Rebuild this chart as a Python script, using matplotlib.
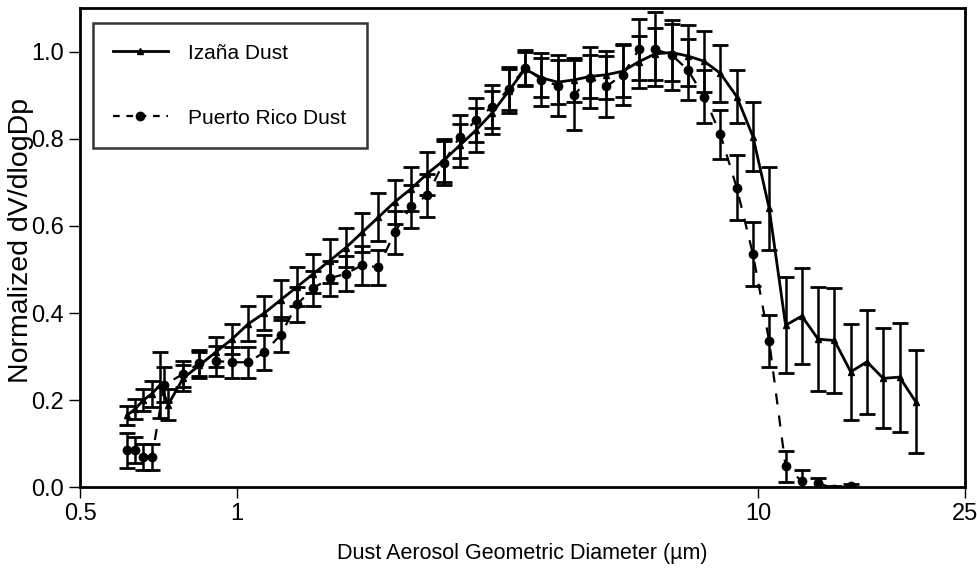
import matplotlib.pyplot as plt
from matplotlib.lines import Line2D
from matplotlib.ticker import FixedLocator, NullLocator, FixedFormatter

# Izaña dust size distribution (geometric diameter, um)
izana_d = [0.615, 0.638, 0.661, 0.687, 0.712, 0.738,
           0.788, 0.847, 0.910, 0.978, 1.051, 1.129, 1.213, 1.304, 1.401, 1.506,
           1.618, 1.739, 1.869, 2.008, 2.158, 2.319, 2.492, 2.678, 2.878, 3.093,
           3.324, 3.572, 3.838, 4.125, 4.432, 4.763, 5.119, 5.501, 5.911, 6.352,
           6.826, 7.335, 7.883, 8.471, 9.103, 9.782, 10.51, 11.30, 12.14, 13.05,
           14.02, 15.07, 16.19, 17.40, 18.70, 20.09]
izana_v = [0.165, 0.18, 0.20, 0.215, 0.235, 0.19,
           0.25, 0.28, 0.31, 0.34, 0.375, 0.40, 0.43, 0.46, 0.49, 0.52,
           0.55, 0.585, 0.62, 0.655, 0.685, 0.72, 0.75, 0.785, 0.82, 0.86,
           0.91, 0.96, 0.94, 0.93, 0.935, 0.943, 0.947, 0.955, 0.977, 0.995,
           0.998, 0.99, 0.978, 0.95, 0.897, 0.805, 0.64, 0.372, 0.393, 0.34,
           0.337, 0.265, 0.288, 0.25, 0.253, 0.196]
izana_err = [0.022, 0.023, 0.025, 0.03, 0.075, 0.035,
             0.03, 0.03, 0.035, 0.035, 0.04, 0.04, 0.045, 0.045, 0.045, 0.05,
             0.045, 0.045, 0.055, 0.05, 0.05, 0.05, 0.05, 0.05, 0.05, 0.05,
             0.05, 0.04, 0.045, 0.05, 0.05, 0.05, 0.055, 0.06, 0.06, 0.06,
             0.065, 0.07, 0.07, 0.065, 0.06, 0.08, 0.095, 0.11, 0.11, 0.12,
             0.12, 0.11, 0.12, 0.115, 0.125, 0.118]

# Puerto Rico dust
pr_d = [0.615, 0.638, 0.661, 0.687, 0.725,
        0.788, 0.847, 0.910, 0.978, 1.051, 1.129, 1.213, 1.304, 1.401, 1.506,
        1.618, 1.739, 1.869, 2.008, 2.158, 2.319, 2.492, 2.678, 2.878, 3.093,
        3.324, 3.572, 3.838, 4.125, 4.432, 4.763, 5.119, 5.501, 5.911, 6.352,
        6.826, 7.335, 7.883, 8.471, 9.103, 9.782, 10.51, 11.30, 12.14, 13.05,
        14.02, 15.07]
pr_v = [0.085, 0.085, 0.07, 0.07, 0.235,
        0.26, 0.285, 0.29, 0.287, 0.287, 0.31, 0.35, 0.42, 0.457, 0.48,
        0.49, 0.51, 0.505, 0.585, 0.645, 0.67, 0.745, 0.805, 0.843, 0.874,
        0.915, 0.963, 0.936, 0.922, 0.90, 0.94, 0.92, 0.947, 1.005, 1.005,
        0.993, 0.958, 0.897, 0.81, 0.688, 0.535, 0.335, 0.048, 0.014, 0.01,
        -0.004, 0.002]
pr_err = [0.04, 0.03, 0.03, 0.03, 0.04,
          0.03, 0.03, 0.035, 0.035, 0.035, 0.04, 0.04, 0.04, 0.04, 0.04,
          0.04, 0.045, 0.04, 0.05, 0.05, 0.05, 0.05, 0.05, 0.05, 0.05,
          0.05, 0.04, 0.06, 0.07, 0.08, 0.07, 0.07, 0.07, 0.07, 0.085,
          0.08, 0.07, 0.06, 0.057, 0.075, 0.074, 0.06, 0.035, 0.025, 0.012,
          0.008, 0.005]

xticks = [0.5, 1, 10, 25]
xtick_labels = ["0.5", "1", "10", "25"]
yticks = [0.0, 0.2, 0.4, 0.6, 0.8, 1.0]

narrow = ["Liberation Sans Narrow", "Liberation Sans", "DejaVu Sans"]
plt.rcParams["font.family"] = ["Liberation Sans", "DejaVu Sans"]

fig = plt.figure(figsize=(9.77, 5.76), dpi=100)
ax = fig.add_axes([0.082, 0.154, 0.906, 0.832])

err_kw = dict(ecolor="black", elinewidth=1.8, capsize=5.5, capthick=2)
ax.errorbar(izana_d, izana_v, yerr=izana_err, color="black", lw=2,
            ls="-", marker="^", ms=4, **err_kw)
ax.errorbar(pr_d, pr_v, yerr=pr_err, color="black", lw=1.6,
            ls=(0, (5, 5)), marker="o", ms=6, **err_kw)

ax.set_xscale("log")
ax.set_xlim(0.5, 25)
ax.set_ylim(0, 1.10)
ax.xaxis.set_major_locator(FixedLocator(xticks))
ax.xaxis.set_major_formatter(FixedFormatter(xtick_labels))
ax.xaxis.set_minor_locator(NullLocator())
ax.set_yticks(yticks)
ax.set_yticklabels([f"{v:.1f}" for v in yticks])

for s in ax.spines.values():
    s.set_linewidth(2)
ax.tick_params(axis="both", direction="out", length=8, width=1, labelsize=17)
for lab in ax.get_xticklabels() + ax.get_yticklabels():
    lab.set_family(narrow)

ax.set_xlabel("Dust Aerosol Geometric Diameter (µm)", fontsize=15.5,
              family=narrow, labelpad=13)
ax.set_ylabel("Normalized dV/dlogDp", fontsize=20.5)
ax.yaxis.set_label_coords(-0.052, 0.515)

handles = [Line2D([], [], color="black", lw=2, marker="^", ms=4),
           Line2D([], [], color="black", lw=1.6, ls=(0, (3, 3)), marker="o", ms=6)]
labels = ["Izaña Dust", "Puerto Rico Dust"]
leg = ax.legend(handles, labels, loc="upper left", bbox_to_anchor=(0.007, 0.982),
                fontsize=15, frameon=True, fancybox=False, edgecolor="black",
                labelspacing=2.2, borderpad=1.0, handlelength=2.6,
                handletextpad=1.0, borderaxespad=0.3)
leg.get_frame().set_linewidth(1.8)

fig.savefig("out.png", dpi=100)
